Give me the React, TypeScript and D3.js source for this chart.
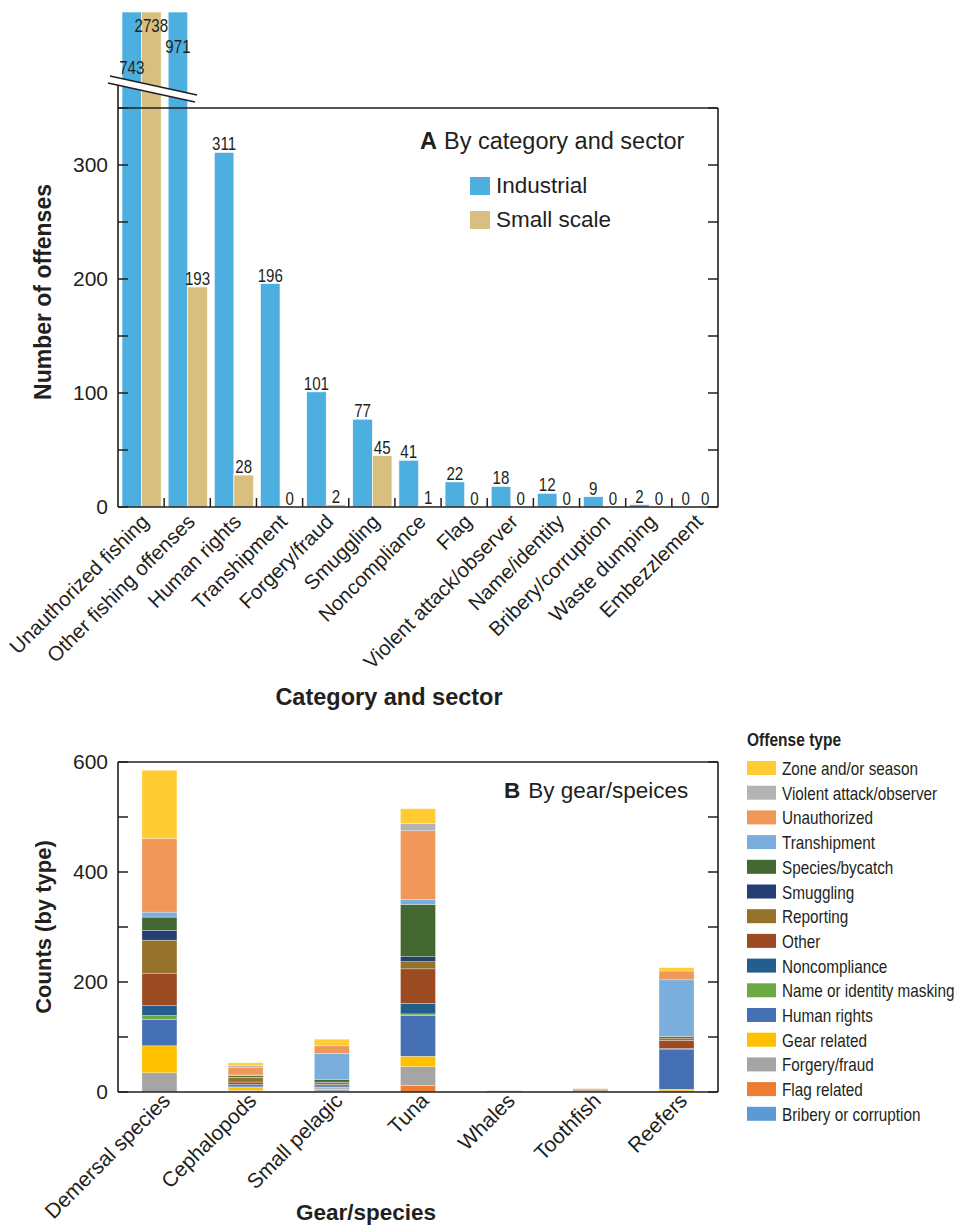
import * as d3 from "d3";

const FONT = '"Liberation Sans", Arial, Helvetica, sans-serif';
const INK = "#231f20";

// Panel A: offenses by category and sector
const categories = [
  "Unauthorized fishing",
  "Other fishing offenses",
  "Human rights",
  "Transhipment",
  "Forgery/fraud",
  "Smuggling",
  "Noncompliance",
  "Flag",
  "Violent attack/observer",
  "Name/identity",
  "Bribery/corruption",
  "Waste dumping",
  "Embezzlement",
];
const industrial = [743, 971, 311, 196, 101, 77, 41, 22, 18, 12, 9, 2, 0];
const smallScale = [2738, 193, 28, 0, 2, 45, 1, 0, 0, 0, 0, 0, 0];
const sectors = ["Industrial", "Small scale"];
const sectorColors = ["#4daee0", "#d9bf7f"];
const yTicksA = [0, 100, 200, 300];
const yMinorA = [50, 150, 250, 350];

// Panel B: offense types by gear/species (stack order bottom -> top)
const gears = ["Demersal species", "Cephalopods", "Small pelagic", "Tuna", "Whales", "Toothfish", "Reefers"];
const offenseTypes = [
  "Bribery or corruption",
  "Flag related",
  "Forgery/fraud",
  "Gear related",
  "Human rights",
  "Name or identity masking",
  "Noncompliance",
  "Other",
  "Reporting",
  "Smuggling",
  "Species/bycatch",
  "Transhipment",
  "Unauthorized",
  "Violent attack/observer",
  "Zone and/or season",
];
const offenseColors = [
  "#5b9bd5",
  "#ed7d31",
  "#a5a5a5",
  "#ffc000",
  "#4670b6",
  "#6daa45",
  "#235e8e",
  "#9c4a22",
  "#94722a",
  "#253f75",
  "#436832",
  "#7aaedc",
  "#f0975a",
  "#b4b4b4",
  "#ffcc33",
];
const bribery = [0, 0, 0, 0, 0, 0, 0];
const flagRelated = [0, 1, 1, 12, 0, 1, 2];
const forgery = [35, 2, 3, 34, 0, 0, 0];
const gearRelated = [49, 6, 2, 19, 0, 0, 3];
const humanRights = [48, 2, 2, 74, 0, 0, 72];
const nameMasking = [7, 0, 1, 3, 0, 0, 0];
const noncompliance = [18, 3, 2, 19, 0, 0, 2];
const other = [59, 4, 3, 63, 0, 2, 15];
const reporting = [60, 8, 3, 13, 0, 0, 4];
const smuggling = [18, 1, 1, 9, 1, 0, 0];
const speciesBycatch = [24, 3, 5, 95, 1, 1, 3];
const transhipment = [9, 1, 47, 9, 0, 0, 103];
const unauthorized = [134, 14, 14, 125, 0, 2, 16];
const violentAttack = [0, 3, 0, 13, 0, 0, 0];
const zoneSeason = [124, 5, 12, 27, 0, 0, 6];
const offenseSeries = [
  bribery, flagRelated, forgery, gearRelated, humanRights, nameMasking, noncompliance,
  other, reporting, smuggling, speciesBycatch, transhipment, unauthorized, violentAttack, zoneSeason,
];
const yTicksB = [0, 200, 400, 600];
const yMinorB = [100, 300, 500];

function Narrow({ x, y, size, anchor = "start", children, weight = "normal", sx = 0.84 }: any) {
  return (
    <text
      transform={`translate(${x},${y}) scale(${sx},1)`}
      fontSize={size}
      textAnchor={anchor}
      fontWeight={weight}
      fill={INK}
    >
      {children}
    </text>
  );
}

export default function App() {
  const W = 961;
  const H = 1230;

  // ---------- panel A ----------
  const left = 118;
  const right = 718;
  const xA = d3.scaleBand<string>().domain(categories).range([left, right]);
  const xSector = d3.scaleBand<string>().domain(sectors).range([4, xA.bandwidth() - 3]);
  const yA = d3.scaleLinear().domain([0, 350]).range([507, 108]);
  const clipTop = 12;
  const sectorValues = [industrial, smallScale];
  const brokenValues = sectorValues.flat().filter((v) => v > 350).sort((a, b) => a - b);
  const breakLabelY = d3.scalePoint<number>().domain(brokenValues).range([74, 32]);
  const legendA = d3.scalePoint<string>().domain(sectors).range([177, 211]);

  // ---------- panel B ----------
  const xB = d3.scaleBand<string>().domain(gears).range([left, right]).paddingInner(0.594).paddingOuter(0.278);
  const yB = d3.scaleLinear().domain([0, 600]).range([1092, 762]);
  const rows = gears.map((g, i) => {
    const r: Record<string, any> = { gear: g };
    offenseTypes.forEach((t, k) => (r[t] = offenseSeries[k][i]));
    return r;
  });
  const stacked = d3.stack<Record<string, any>>().keys(offenseTypes)(rows);
  const legendOrder = offenseTypes.slice().reverse();
  const legendB = d3.scaleBand<string>().domain(legendOrder).range([761, 761 + 24.7 * legendOrder.length]);
  const colorB = d3.scaleOrdinal<string, string>().domain(offenseTypes).range(offenseColors);

  return (
    <svg
      width={W}
      height={H}
      viewBox={`0 0 ${W} ${H}`}
      style={{ position: "absolute", left: 0, top: 0, background: "#fff" }}
      fontFamily={FONT}
    >
      <rect width={W} height={H} fill="#fff" />

      {/* ===== Panel A ===== */}
      <g>
        {categories.map((c, i) =>
          sectors.map((s, k) => {
            const v = sectorValues[k][i];
            const x = (xA(c) ?? 0) + (xSector(s) ?? 0);
            const top = v > 350 ? clipTop : yA(v);
            return (
              <rect
                key={c + s}
                x={x}
                y={top}
                width={xSector.bandwidth()}
                height={yA(0) - top}
                fill={sectorColors[k]}
                stroke="#fff"
                strokeWidth={0.6}
              />
            );
          })
        )}
        {/* axis break */}
        <polygon points="110,76 197,95 195,102 108,83" fill="#fff" />
        <line x1={110} y1={76} x2={197} y2={95} stroke={INK} strokeWidth={1.5} />
        <line x1={108} y1={83} x2={195} y2={102} stroke={INK} strokeWidth={1.5} />

        {/* frame */}
        <line x1={left} y1={85} x2={left} y2={yA(0)} stroke={INK} strokeWidth={1.6} />
        <line x1={left} y1={yA(0)} x2={right} y2={yA(0)} stroke={INK} strokeWidth={1.6} />
        <line x1={left} y1={yA(350)} x2={right} y2={yA(350)} stroke={INK} strokeWidth={1.4} />
        <line x1={right} y1={yA(350)} x2={right} y2={yA(0)} stroke={INK} strokeWidth={1.6} />
        {[...yTicksA, ...yMinorA].map((t) => (
          <g key={"ta" + t}>
            <line x1={left} x2={left + 10} y1={yA(t)} y2={yA(t)} stroke={INK} strokeWidth={1.5} />
            <line x1={right - 10} x2={right} y1={yA(t)} y2={yA(t)} stroke={INK} strokeWidth={1.5} />
          </g>
        ))}
        {yTicksA.map((t) => (
          <text key={"la" + t} x={108} y={yA(t) + 7} fontSize={21} textAnchor="end" fill={INK}>
            {t}
          </text>
        ))}
        {categories.slice(1).map((c) => (
          <line key={"xt" + c} x1={xA(c)} x2={xA(c)} y1={yA(0)} y2={yA(0) - 9} stroke={INK} strokeWidth={1.5} />
        ))}

        {/* value labels */}
        {categories.map((c, i) =>
          sectors.map((s, k) => {
            const v = sectorValues[k][i];
            const cx = (xA(c) ?? 0) + (xSector(s) ?? 0) + xSector.bandwidth() / 2;
            const y = v > 350 ? breakLabelY(v)! : yA(v) - 2;
            return (
              <Narrow key={"v" + c + s} x={cx} y={y} size={18} anchor="middle">
                {v}
              </Narrow>
            );
          })
        )}

        {/* category labels */}
        {categories.map((c) => {
          const cx = (xA(c) ?? 0) + xA.bandwidth() / 2;
          return (
            <text
              key={"cl" + c}
              transform={`translate(${cx + 9},${yA(0) + 16}) rotate(-45)`}
              fontSize={20.5}
              textAnchor="end"
              fill={INK}
            >
              {c}
            </text>
          );
        })}

        <text transform="translate(51,292) rotate(-90)" fontSize={23} fontWeight="bold" textAnchor="middle" fill={INK}>
          Number of offenses
        </text>
        <text x={389} y={705} fontSize={23.5} fontWeight="bold" textAnchor="middle" fill={INK}>
          Category and sector
        </text>

        {/* title + legend */}
        <text x={420} y={149} fontSize={23.5} fill={INK}>
          <tspan fontWeight="bold">A</tspan>
          <tspan dx={7}>By category and sector</tspan>
        </text>
        {sectors.map((s, k) => (
          <g key={"lg" + s}>
            <rect x={470} y={legendA(s)} width={20} height={18} fill={sectorColors[k]} />
            <text x={496} y={(legendA(s) ?? 0) + 16} fontSize={22.5} fill={INK}>
              {s}
            </text>
          </g>
        ))}
      </g>

      {/* ===== Panel B ===== */}
      <g>
        {stacked.map((layer) => (
          <g key={layer.key} fill={colorB(layer.key)}>
            {layer.map((d, i) =>
              d[1] - d[0] > 0 ? (
                <rect
                  key={gears[i]}
                  x={xB(gears[i])}
                  y={yB(d[1])}
                  width={xB.bandwidth()}
                  height={yB(d[0]) - yB(d[1])}
                  stroke="#ffffff"
                  strokeOpacity={0.5}
                  strokeWidth={0.6}
                />
              ) : null
            )}
          </g>
        ))}

        <line x1={left} y1={yB(600)} x2={left} y2={yB(0)} stroke={INK} strokeWidth={1.6} />
        <line x1={left} y1={yB(0)} x2={right} y2={yB(0)} stroke={INK} strokeWidth={1.6} />
        <line x1={left} y1={yB(600)} x2={right} y2={yB(600)} stroke={INK} strokeWidth={1.4} />
        <line x1={right} y1={yB(600)} x2={right} y2={yB(0)} stroke={INK} strokeWidth={1.6} />
        {[...yTicksB, ...yMinorB].map((t) => (
          <g key={"tb" + t}>
            <line x1={left} x2={left + 10} y1={yB(t)} y2={yB(t)} stroke={INK} strokeWidth={1.5} />
            <line x1={right - 10} x2={right} y1={yB(t)} y2={yB(t)} stroke={INK} strokeWidth={1.5} />
          </g>
        ))}
        {yTicksB.map((t) => (
          <text key={"lb" + t} x={108} y={yB(t) + 7} fontSize={21} textAnchor="end" fill={INK}>
            {t}
          </text>
        ))}
        {gears.map((g) => {
          const cx = (xB(g) ?? 0) + xB.bandwidth() / 2;
          return (
            <text
              key={"gl" + g}
              transform={`translate(${cx + 12},${yB(0) + 10}) rotate(-45)`}
              fontSize={21}
              textAnchor="end"
              fill={INK}
            >
              {g}
            </text>
          );
        })}

        <text transform="translate(51,927) rotate(-90)" fontSize={22} fontWeight="bold" textAnchor="middle" fill={INK}>
          Counts (by type)
        </text>
        <text x={366} y={1220} fontSize={22.5} fontWeight="bold" textAnchor="middle" fill={INK}>
          Gear/species
        </text>

        <text x={504} y={798} fontSize={22.5} fill={INK}>
          <tspan fontWeight="bold">B</tspan>
          <tspan dx={8}>By gear/speices</tspan>
        </text>

        <Narrow x={747} y={746} size={18.5} weight="bold">
          Offense type
        </Narrow>
        {legendOrder.map((t) => (
          <g key={"lgb" + t}>
            <rect x={747} y={legendB(t)} width={29} height={14} fill={colorB(t)} />
            <Narrow x={782} y={(legendB(t) ?? 0) + 14} size={18} sx={0.85}>
              {t}
            </Narrow>
          </g>
        ))}
      </g>
    </svg>
  );
}
